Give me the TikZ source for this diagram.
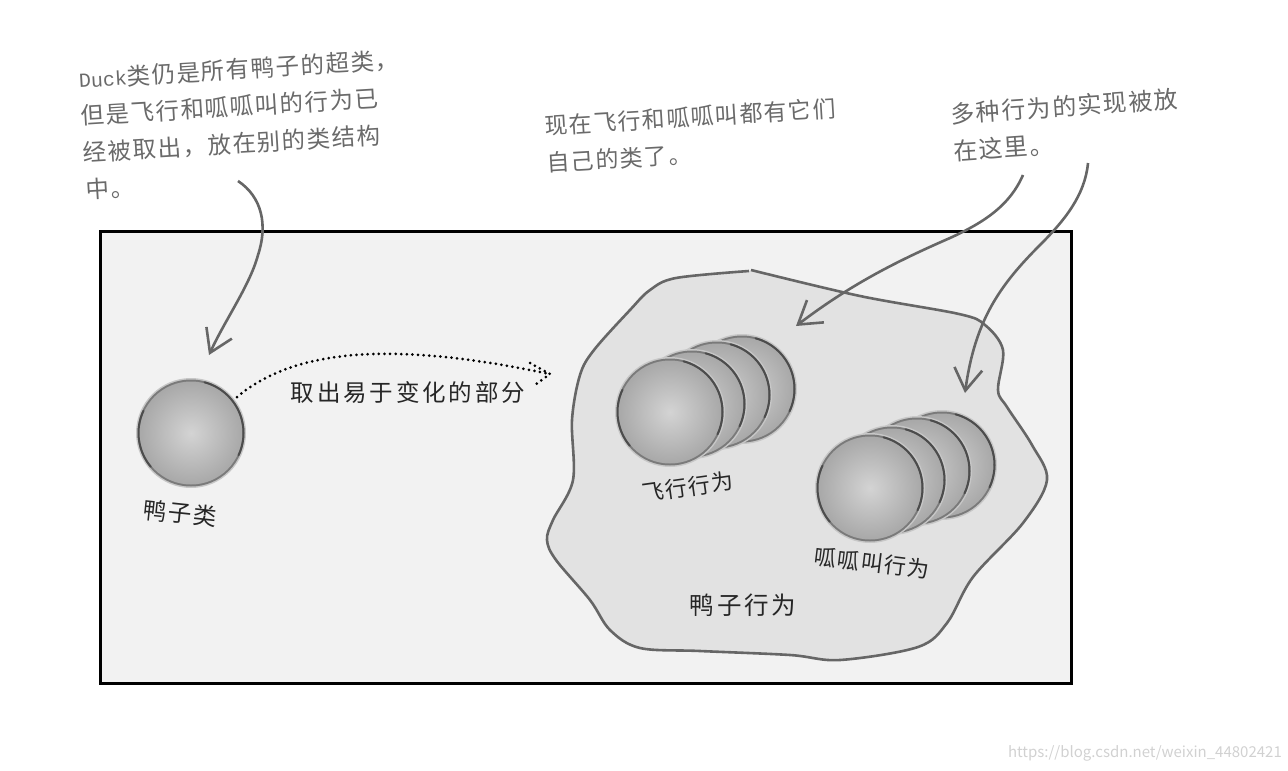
\documentclass[tikz,border=0pt]{standalone}
\usepackage{fontspec}
\usepackage{tikz}
\usetikzlibrary{arrows.meta}
\setmainfont{Noto Sans CJK SC}
\newfontfamily\cjk[LetterSpace=6]{Noto Sans CJK SC}
\newfontfamily\widecjk[LetterSpace=12]{Noto Sans CJK SC}
\newfontfamily\duckfont{Liberation Mono}
\definecolor{boxfill}{HTML}{F2F2F2}
\definecolor{blobfill}{HTML}{E2E2E2}
\definecolor{sketch}{HTML}{666666}
\definecolor{notetext}{HTML}{6A6A6A}
\tikzset{
  note/.style={anchor=north west,align=left,inner sep=0pt,text=notetext,
    font=\cjk\fontsize{23.5}{37}\selectfont,rotate=3.5},
  label/.style={inner sep=0pt,text=black!85,font=\cjk\fontsize{23.5}{28}\selectfont},
  sketchline/.style={draw=sketch,line width=2.6pt},
  pointer/.style={sketchline,-{Straight Barb[length=22pt,width=28pt]}},
  dots/.style={line width=3pt,line cap=round,dash pattern=on 0pt off 5.6pt},
  ballrim/.style={draw=black!70,line width=2pt,line cap=round},
  ball/.pic={
    \fill[black!22] (0,0) circle[radius=55];
    \fill[black!52] (0,0) circle[radius=53.5];
    \shade[inner color=black!17,outer color=black!34] (0,0) circle[radius=51.5];
    \draw[ballrim] (-75:52.5) arc[start angle=-75,end angle=25,radius=52.5];
    \draw[ballrim] (140:52.5) arc[start angle=140,end angle=205,radius=52.5];
  },
}

\begin{document}
\begin{tikzpicture}[x=1pt,y=-1pt]
\useasboundingbox (0,0) rectangle (1288,771);
\draw[fill=boxfill,line width=3pt] (100,231) rectangle (1071,683);
% behaviour blob, open at the top
\fill[blobfill] plot[smooth,tension=.55] coordinates {(751,270) (860,296) (959,314) (985,325) (1003,350) (998,390) (1007,407) (1032,445) (1047,480) (1023,523) (973,577) (947,623) (918,647) (840,660) (790,655) (700,651) (640,648) (610,630) (590,600) (556,560) (547,540) (553,520) (573,480) (572,420) (580,375) (594,350) (630,310) (650,290) (676,278) (749,271)};
\draw[sketchline] plot[smooth,tension=.55] coordinates {(751,270) (860,296) (959,314) (985,325) (1003,350) (998,390) (1007,407) (1032,445) (1047,480) (1023,523) (973,577) (947,623) (918,647) (840,660) (790,655) (700,651) (640,648) (610,630) (590,600) (556,560) (547,540) (553,520) (573,480) (572,420) (580,375) (594,350) (630,310) (650,290) (676,278) (749,271)};

\pic at (191,433) {ball};
\foreach \px/\py in {742/389,717/395,692/404,670/412} \pic at (\px,\py) {ball};
\foreach \px/\py in {942/465,917/471,892/480,870/488} \pic at (\px,\py) {ball};

\node[note] (ducknote) at (78,68) {{\duckfont\fontsize{20}{37}\selectfont Duck}类仍是所有鸭子的超类，\\但是飞行和呱呱叫的行为已\\经被取出，放在别的类结构\\中。};
\node[note,font=\cjk\fontsize{23}{37}\selectfont] (ownnote) at (544,115) {现在飞行和呱呱叫都有它们\\自己的类了。};
\node[note,rotate=.5,font=\cjk\fontsize{24}{37}\selectfont] (implnote) at (950,103) {多种行为的实现被放\\在这里。};

\node[label,font=\widecjk\fontsize{23.5}{28}\selectfont] (takeout) at (408,393) {取出易于变化的部分};
\node[label] (ducklabel) at (180,513) [rotate=-6] {鸭子类};
\node[label,rotate=8,font=\cjk\fontsize{22}{28}\selectfont] (flylabel) at (688,487) {飞行行为};
\node[label,rotate=-7,font=\cjk\fontsize{22}{28}\selectfont] (quacklabel) at (872,563) {呱呱叫行为};
\node[label,font=\widecjk\fontsize{24.5}{28}\selectfont] (behaviour) at (743,605) {鸭子行为};
\node[anchor=east,inner sep=0pt,text=black!18,font=\fontsize{15}{20}\selectfont] (mark) at (1282,753) {https://blog.csdn.net/weixin\_44802421};

\coordinate (duckstart) at (238,181);
\coordinate (duckbend) at (258,255);
\coordinate (ducktip) at (209,355);
\coordinate (flystart) at (1023,175);
\coordinate (flybend) at (950,238);
\coordinate (flytip) at (796,326);
\coordinate (quackstart) at (1088,163);
\coordinate (quackbend) at (1040,245);
\coordinate (quacktip) at (965,393);
\draw[pointer] (duckstart) .. controls (262,197) and (268,225) .. (duckbend) .. controls (250,285) and (225,320) .. (ducktip);
\draw[pointer] (flystart) .. controls (1010,205) and (985,222) .. (flybend) .. controls (895,262) and (850,285) .. (flytip);
\draw[pointer] (quackstart) .. controls (1085,195) and (1065,220) .. (quackbend) .. controls (1000,285) and (975,320) .. (quacktip);

\coordinate (dotstart) at (237,397);
\coordinate (dottip) at (550,374);
\coordinate (dotup) at (530,363);
\coordinate (dotdown) at (535,385);
\draw[dots] (dotstart) .. controls (275,365) and (330,352) .. (400,354) .. controls (460,356) and (510,366) .. (dottip);
\draw[dots] (dotup) -- (dottip) -- (dotdown);
\end{tikzpicture}
\end{document}
